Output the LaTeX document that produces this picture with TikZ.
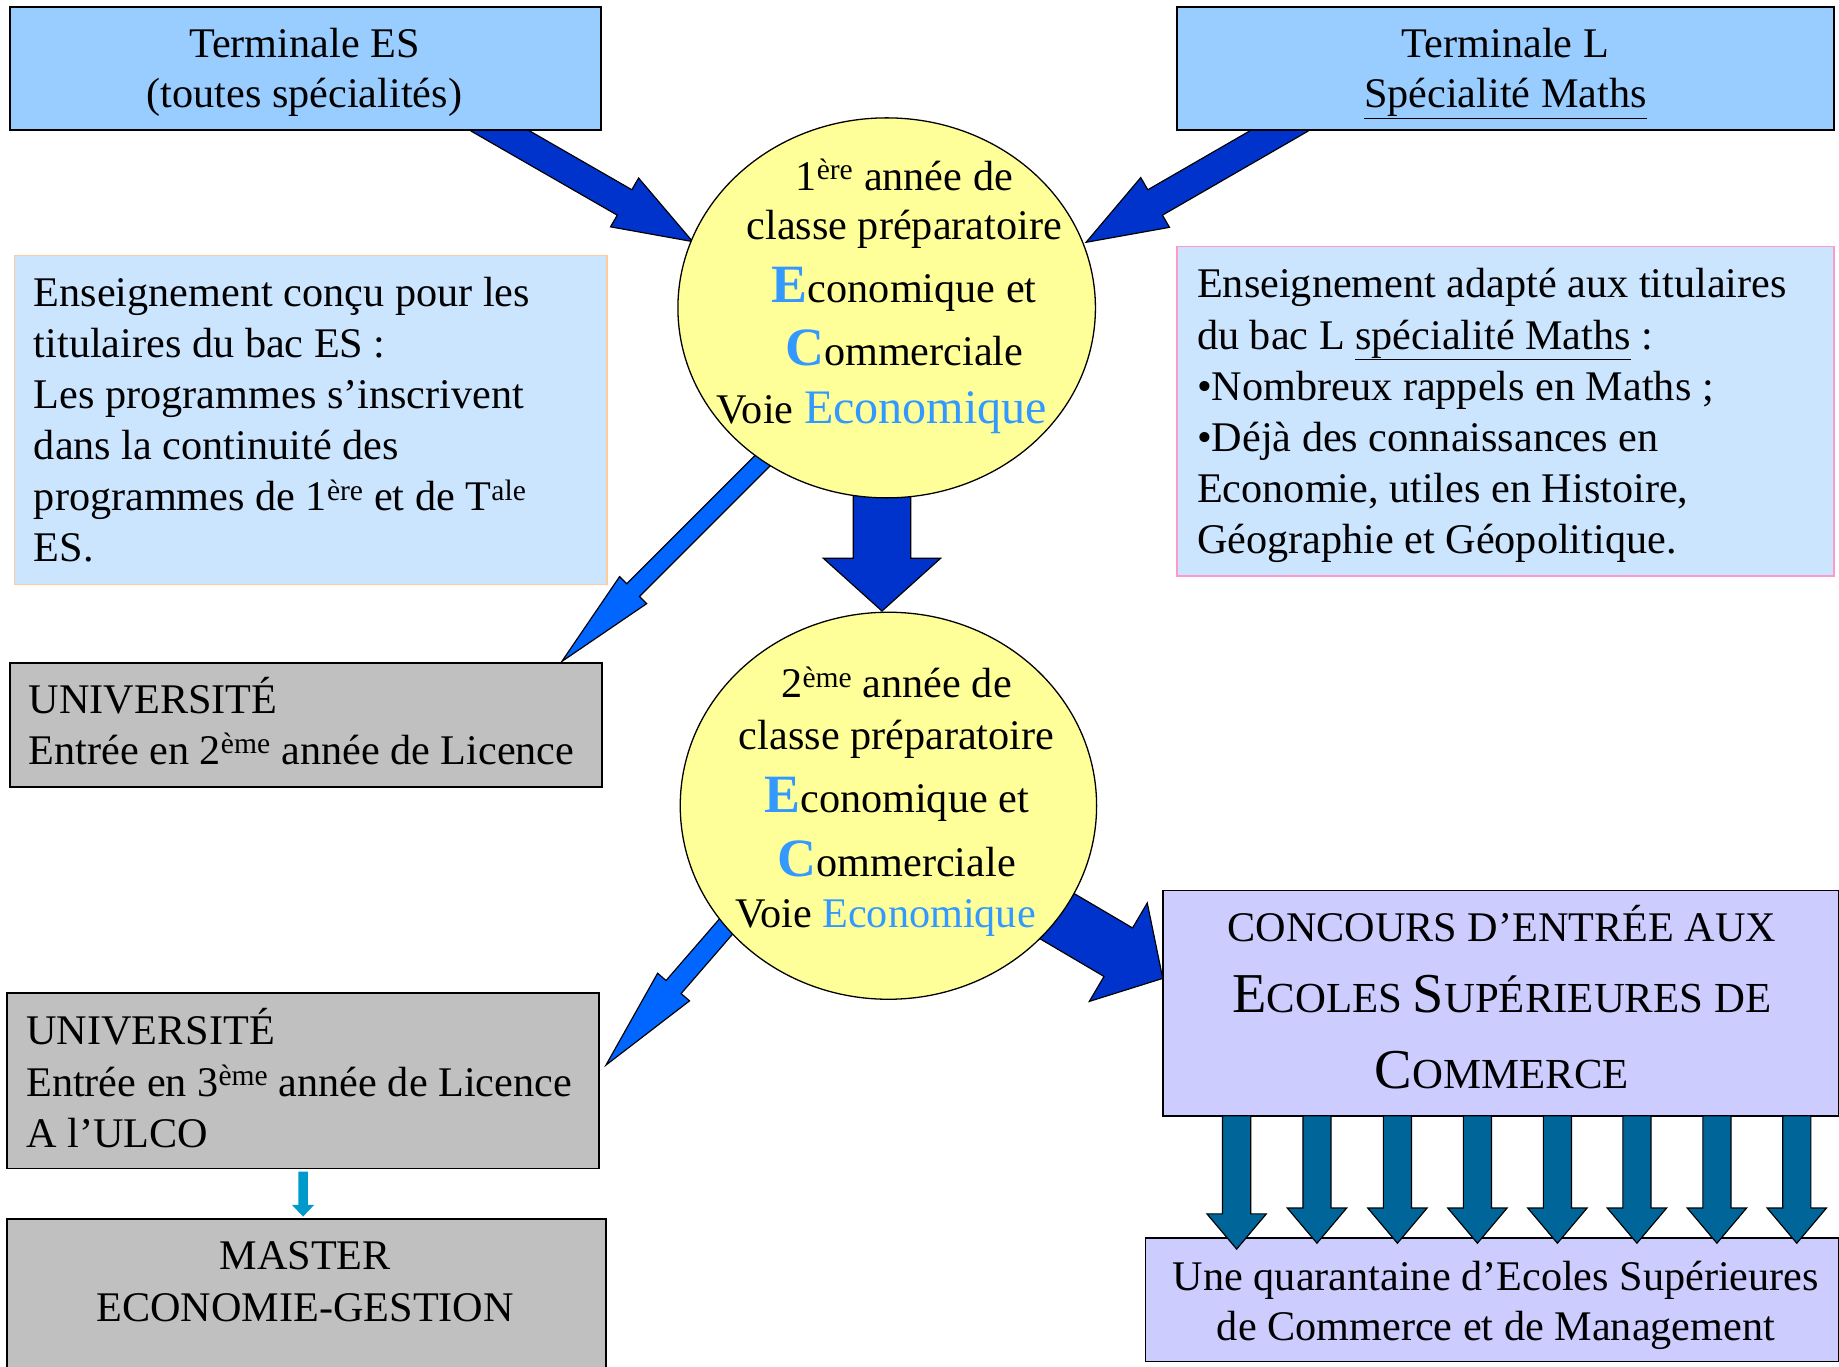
\documentclass[tikz,border=0pt]{standalone}
\usepackage{fontspec}
\setmainfont{Liberation Serif}
\usetikzlibrary{calc,shapes.geometric}
\pgfdeclarelayer{background}
\pgfsetlayers{background,main}
\definecolor{tbox}{HTML}{99CCFF}
\definecolor{ibox}{HTML}{CCE5FF}
\definecolor{oborder}{HTML}{FFCC99}
\definecolor{pborder}{HTML}{FF99CC}
\definecolor{ell}{HTML}{FFFF99}
\definecolor{dblue}{HTML}{0033CC}
\definecolor{bblue}{HTML}{0066FF}
\definecolor{gbox}{HTML}{C0C0C0}
\definecolor{cbox}{HTML}{CCCCFF}
\definecolor{darrow}{HTML}{006699}
\definecolor{sarrow}{HTML}{0099CC}
\definecolor{ltr}{HTML}{3399FF}

% #1 style, #2 start, #3 tip, #4 half shaft, #5 half head, #6 head length
\newcommand\blockarrow[6]{%
  \path ($(#3)!#6!(#2)$) coordinate (bahead);
  \draw[#1] ($(#2)!#4!90:(#3)$) -- ($(bahead)!#4!90:(#3)$) -- ($(bahead)!#5!90:(#3)$) -- (#3)
    -- ($(bahead)!#5!-90:(#3)$) -- ($(bahead)!#4!-90:(#3)$) -- ($(#2)!#4!-90:(#3)$) -- cycle;}
\newcommand\bigL[1]{{\color{ltr}\bfseries\fontsize{46}{46}\selectfont #1}}
\newcommand\scI[1]{{\fontsize{48}{48}\selectfont #1}}
\newcommand\scR[1]{{\fontsize{36.5}{36.5}\selectfont #1}}

\begin{document}
\begin{tikzpicture}[x=1pt,y=-1pt,
  box/.style={draw=black,line width=1.5pt,inner sep=0pt,anchor=north west},
  infobox/.style={line width=1.2pt,inner sep=0pt,anchor=north west,fill=ibox},
  ellnode/.style={ellipse,draw=black,line width=1.1pt,fill=ell,inner sep=0pt},
  txt/.style={inner sep=0pt,font=\fontsize{36}{43.5}\selectfont},
  arr dark/.style={fill=dblue,draw=black,line width=1pt,line join=miter},
  arr bright/.style={fill=bblue,draw=black,line width=1pt,line join=miter},
  arr down/.style={fill=darrow,draw=black,line width=1pt,line join=miter},
  arr small/.style={fill=sarrow,draw=none}]
\useasboundingbox (0,0) rectangle (1568,1165);

% boxes
\node[box,fill=tbox,minimum width=504pt,minimum height=105pt] (tes) at (8,5) {};
\node[box,fill=tbox,minimum width=560pt,minimum height=105pt] (tl) at (1003,5) {};
\node[infobox,draw=oborder,minimum width=505pt,minimum height=281pt] (info1) at (12,217) {};
\node[infobox,draw=pborder,minimum width=560pt,minimum height=281pt] (info2) at (1003,209.5) {};
\node[box,fill=gbox,minimum width=505pt,minimum height=105.5pt] (univ1) at (7.5,564.5) {};
\node[box,fill=gbox,minimum width=505pt,minimum height=149.5pt] (univ2) at (5,846) {};
\node[box,fill=gbox,minimum width=511pt,minimum height=140pt] (master) at (5,1038.5) {};
\node[box,fill=cbox,minimum width=576pt,minimum height=192.5pt] (conc) at (991,758.5) {};
\node[box,fill=cbox,minimum width=591pt,minimum height=105.5pt] (ecoles) at (976,1054.5) {};

% ellipses
\node[ellnode,minimum width=356pt,minimum height=324pt] (e1) at (756,262.5) {};
\node[ellnode,minimum width=355pt,minimum height=330pt] (e2) at (757.5,687) {};

% arrow coordinates
\coordinate (a1s) at (408,101);   \coordinate (a1e) at (590.6,206);
\coordinate (a2s) at (1109,101);  \coordinate (a2e) at (926,206.6);
\coordinate (a3s) at (752,400);   \coordinate (a3e) at (752,521);
\coordinate (a4s) at (662,381);   \coordinate (a4e) at (479,564);
\coordinate (a5s) at (632,775);   \coordinate (a5e) at (516.7,908.1);
\coordinate (a6s) at (862,758);   \coordinate (a6e) at (991.4,834.2);
\coordinate (a7s) at (258.4,999); \coordinate (a7e) at (258.4,1037.3);

\begin{pgfonlayer}{background}
\blockarrow{arr dark}{a1s}{a1e}{12.5pt}{24pt}{67pt}
\blockarrow{arr dark}{a2s}{a2e}{12.5pt}{24.5pt}{68pt}
\blockarrow{arr dark}{a3s}{a3e}{24.5pt}{50pt}{45pt}
\blockarrow{arr bright}{a4s}{a4e}{7.7pt}{16.3pt}{86pt}
\blockarrow{arr bright}{a5s}{a5e}{8.5pt}{18pt}{88pt}
\blockarrow{arr dark}{a6s}{a6e}{24pt}{48.7pt}{44pt}
\blockarrow{arr small}{a7s}{a7e}{4pt}{9.5pt}{10pt}
\end{pgfonlayer}

% down arrows
\foreach \x/\t [count=\i] in {1054.4/1065,1122.9/1060,1191.5/1060,1259.7/1060,1327.9/1060,1395.7/1060,1463.9/1060,1532/1060}{
  \coordinate (ds\i) at (\x,951.3);
  \coordinate (de\i) at (\x,\t);
  \blockarrow{arr down}{ds\i}{de\i}{12pt}{25.3pt}{30pt}
}

% texts (anchor base = baseline of the last line)
\node[txt,align=center,anchor=base,font=\fontsize{36}{42.7}\selectfont] (testxt) at (259.5,92)
  {Terminale ES\\(toutes spécialités)};
\node[txt,align=center,anchor=base,font=\fontsize{36}{42.7}\selectfont] (tltxt) at (1283.5,92)
  {Terminale L\\\underline{Spécialité Maths}};
\node[txt,align=left,anchor=base west] (info1txt) at (28.7,479)
  {Enseignement conçu pour les\\titulaires du bac ES :\\Les programmes s’inscrivent\\dans la continuité des\\programmes de 1\textsuperscript{ère} et de T\textsuperscript{ale}\\ES.};
\node[txt,align=left,anchor=base west,font=\fontsize{36}{43.6}\selectfont] (info2txt) at (1020.5,472)
  {Enseignement adapté aux titulaires\\du bac L \underline{spécialité Maths} :\\•Nombreux rappels en Maths ;\\•Déjà des connaissances en\\Economie, utiles en Histoire,\\Géographie et Géopolitique.};
\node[txt,align=center,anchor=base,font=\fontsize{36}{42}\selectfont] (e1txt) at (771,361.5)
  {1\textsuperscript{ère} année de\\classe préparatoire\\[12pt]\bigL{E}conomique et\\[11.5pt]\bigL{C}ommerciale\\[8pt]Voie {\color{ltr}\fontsize{41}{41}\selectfont Economique}\hspace*{38pt}};
\node[txt,align=center,anchor=base,font=\fontsize{36}{43.8}\selectfont] (e2txt) at (764.5,791)
  {2\textsuperscript{ème} année de\\classe préparatoire\\[10.3pt]\bigL{E}conomique et\\[10.4pt]\bigL{C}ommerciale\\Voie {\color{ltr}Economique}\hspace*{19pt}};
\node[txt,align=left,anchor=base west,font=\fontsize{36}{43.2}\selectfont] (univ1txt) at (24.3,651.8)
  {UNIVERSITÉ\\Entrée en 2\textsuperscript{ème} année de Licence};
\node[txt,align=left,anchor=base west,font=\fontsize{36}{44.3}\selectfont] (univ2txt) at (22.2,978.8)
  {UNIVERSITÉ\\Entrée en 3\textsuperscript{ème} année de Licence\\A l’ULCO};
\node[txt,align=center,anchor=base,font=\fontsize{36}{43.7}\selectfont] (mastertxt) at (260.2,1126.5)
  {MASTER\\ECONOMIE-GESTION};
\node[txt,align=center,anchor=base,font=\fontsize{36}{60.2}\selectfont] (conctxt) at (1280.5,928.5)
  {CONCOURS D’ENTRÉE AUX\\\scI{E}\scR{COLES} \scI{S}\scR{UPÉRIEURES DE}\\[5.2pt]\scI{C}\scR{OMMERCE}};
\node[txt,align=center,anchor=base,font=\fontsize{36}{43}\selectfont] (ecolestxt) at (1275.5,1143)
  {Une quarantaine d’Ecoles Supérieures\\de Commerce et de Management};
\end{tikzpicture}
\end{document}
